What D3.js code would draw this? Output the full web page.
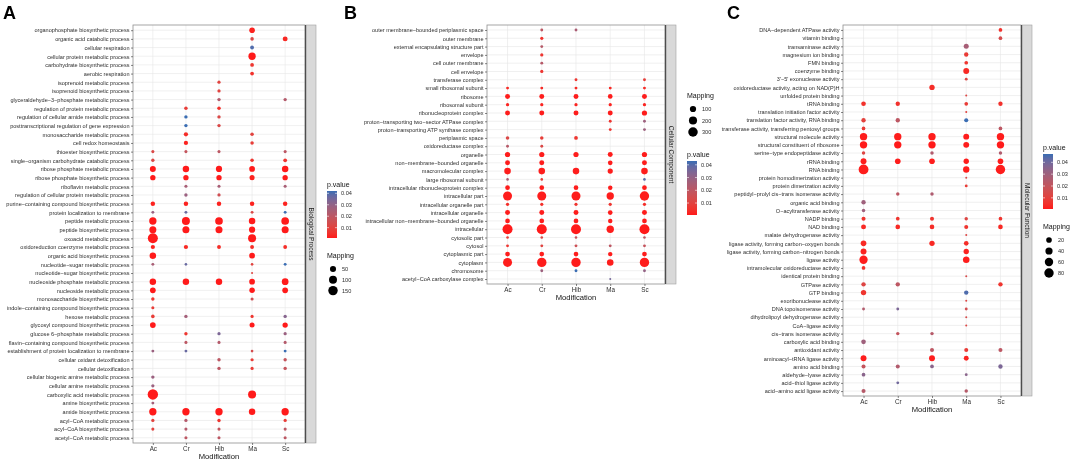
<!DOCTYPE html>
<html>
<head>
<meta charset="utf-8">
<script src="https://cdn.jsdelivr.net/npm/d3@7"></script>
<style>
  body { margin: 0; background: #fff; }
  svg { will-change: transform; }
  svg, svg text { font-family: "Liberation Sans", Arial, sans-serif; }
</style>
</head>
<body>
<svg id="chart" width="1072" height="460"></svg>
<script>
const modifications = ["Ac", "Cr", "Hib", "Ma", "Sc"];
const _ = null;

// A: Biological Process  (rows top -> bottom, columns Ac Cr Hib Ma Sc)
const bpTerms = [
  "organophosphate biosynthetic process", "organic acid catabolic process", "cellular respiration",
  "cellular protein metabolic process", "carbohydrate biosynthetic process", "aerobic respiration",
  "isoprenoid metabolic process", "isoprenoid biosynthetic process", "glyceraldehyde\u22123\u2212phosphate metabolic process",
  "regulation of protein metabolic process", "regulation of cellular amide metabolic process",
  "posttranscriptional regulation of gene expression", "monosaccharide metabolic process", "cell redox homeostasis",
  "thioester biosynthetic process", "single\u2212organism carbohydrate catabolic process", "ribose phosphate metabolic process",
  "ribose phosphate biosynthetic process", "riboflavin metabolic process", "regulation of cellular protein metabolic process",
  "purine\u2212containing compound biosynthetic process", "protein localization to membrane", "peptide metabolic process",
  "peptide biosynthetic process", "oxoacid metabolic process", "oxidoreduction coenzyme metabolic process",
  "organic acid biosynthetic process", "nucleotide\u2212sugar metabolic process", "nucleotide\u2212sugar biosynthetic process",
  "nucleoside phosphate metabolic process", "nucleoside metabolic process", "monosaccharide biosynthetic process",
  "indole\u2212containing compound biosynthetic process", "hexose metabolic process", "glycosyl compound biosynthetic process",
  "glucose 6\u2212phosphate metabolic process", "flavin\u2212containing compound biosynthetic process",
  "establishment of protein localization to membrane", "cellular oxidant detoxification", "cellular detoxification",
  "cellular biogenic amine metabolic process", "cellular amine metabolic process", "carboxylic acid metabolic process",
  "amine biosynthetic process", "amide biosynthetic process", "acyl\u2212CoA metabolic process",
  "acyl\u2212CoA biosynthetic process", "acetyl\u2212CoA metabolic process"
];
const bpMapping = [
  [_,_,_,40,_], [_,_,_,12,28], [_,_,_,15,_], [_,_,_,80,_], [_,_,_,14,_], [_,_,_,14,_],
  [_,_,10,_,_], [_,_,10,_,_], [_,_,11,_,11], [_,12,12,_,_], [_,11,11,_,_], [_,11,11,_,_],
  [_,19,_,12,_], [_,19,_,12,_], [9,9,9,_,9], [11,_,_,12,14], [47,58,52,42,58], [35,35,35,30,35],
  [_,9,9,_,9], [_,11,10,_,_], [22,22,22,22,22], [8,8,_,8,8], [80,99,90,58,90], [72,72,72,52,72],
  [173,_,_,100,_], [19,19,15,15,15], [58,_,_,42,_], [8,7,_,7,8], [_,_,_,6,_], [58,58,58,42,64],
  [42,_,_,38,42], [11,_,_,9,_], [9,_,_,_,_], [13,11,_,10,11], [42,_,_,30,35], [_,11,10,_,10],
  [_,9,9,_,9], [8,8,_,7,8], [_,_,11,10,11], [_,_,11,10,11], [11,_,_,_,_], [10,_,_,_,_],
  [190,_,_,100,_], [8,_,_,_,_], [80,80,80,58,80], [10,10,11,_,10], [9,9,9,_,9], [_,9,9,_,9]
];
const bpPvalue = [
  [_,_,_,.002,_], [_,_,_,.012,.003], [_,_,_,.040,_], [_,_,_,.001,_], [_,_,_,.006,_], [_,_,_,.005,_],
  [_,_,.010,_,_], [_,_,.010,_,_], [_,_,.022,_,.022], [_,.008,.005,_,_], [_,.042,.012,_,_], [_,.042,.012,_,_],
  [_,.004,_,.010,_], [_,.002,_,.008,_], [.012,.018,.020,_,.020], [.012,_,_,.006,.006],
  [.001,.001,.001,.001,.001], [.001,.001,.001,.002,.001],
  [_,.025,.025,_,.025], [_,.028,.015,_,_], [.002,.002,.002,.002,.002], [.028,.037,_,.012,.042],
  [.001,.001,.001,.001,.001], [.001,.001,.001,.001,.001],
  [.001,_,_,.001,_], [.002,.003,.004,.004,.004], [.001,_,_,.001,_], [.025,.037,_,.010,.042], [_,_,_,.010,_],
  [.001,.001,.001,.001,.001],
  [.001,_,_,.001,.001], [.006,_,_,.015,_], [.008,_,_,_,_], [.008,.026,_,.006,.032], [.001,_,_,.001,.001],
  [_,.006,.034,_,.028],
  [_,.020,.022,_,.022], [.028,.037,_,.014,.042], [_,_,.020,.008,.018], [_,_,.020,.008,.018], [.028,_,_,_,_],
  [.028,_,_,_,_],
  [.001,_,_,.001,_], [.026,_,_,_,_], [.001,.001,.001,.001,.001], [.010,.022,.006,_,.008], [.010,.022,.018,_,.020],
  [_,.020,.020,_,.020]
];
const bpSizeBreaks = [50, 100, 150];

// B: Cellular Component
const ccTerms = [
  "outer membrane\u2212bounded periplasmic space", "outer membrane", "external encapsulating structure part",
  "envelope", "cell outer membrane", "cell envelope", "transferase complex", "small ribosomal subunit",
  "ribosome", "ribosomal subunit", "ribonucleoprotein complex", "proton\u2212transporting two\u2212sector ATPase complex",
  "proton\u2212transporting ATP synthase complex", "periplasmic space", "oxidoreductase complex", "organelle",
  "non\u2212membrane\u2212bounded organelle", "macromolecular complex", "large ribosomal subunit",
  "intracellular ribonucleoprotein complex", "intracellular part", "intracellular organelle part",
  "intracellular organelle", "intracellular non\u2212membrane\u2212bounded organelle", "intracellular",
  "cytosolic part", "cytosol", "cytoplasmic part", "cytoplasm", "chromosome", "acetyl\u2212CoA carboxylase complex"
];
const ccMapping = [
  [_,10,10,_,_], [_,14,_,_,_], [_,10,_,_,_], [_,14,_,_,_], [_,10,_,_,_], [_,14,_,_,_], [_,_,10,_,10],
  [10,10,10,10,10], [52,52,52,44,52], [14,14,14,14,14], [52,52,52,52,60], [_,_,_,10,10], [_,_,_,10,10],
  [18,18,22,_,_], [10,10,_,_,_], [60,60,60,52,60], [52,52,_,44,52], [115,115,115,60,115], [8,8,_,_,8],
  [44,44,44,38,44], [262,262,262,155,290], [14,14,14,14,14], [52,52,52,44,52], [44,44,44,38,44],
  [340,340,340,155,340], [8,8,8,_,8], [10,10,10,10,10], [44,44,44,38,44], [262,290,290,115,290],
  [_,10,10,_,10], [_,_,_,6,_]
];
const ccPvalue = [
  [_,.020,.025,_,_], [_,.005,_,_,_], [_,.022,_,_,_], [_,.006,_,_,_], [_,.022,_,_,_], [_,.006,_,_,_],
  [_,_,.006,_,.008], [.003,.003,.003,.003,.003], [.001,.001,.001,.001,.001], [.002,.002,.002,.002,.002],
  [.001,.001,.001,.001,.001], [_,_,_,.006,.028], [_,_,_,.006,.028], [.012,.008,.006,_,_], [.022,.012,_,_,_],
  [.001,.001,.001,.001,.001], [.001,.001,_,.001,.001], [.001,.001,.001,.001,.001], [.025,.008,_,_,.040],
  [.001,.001,.001,.001,.001], [.001,.001,.001,.001,.001], [.004,.004,.005,.006,.004], [.001,.001,.001,.001,.001],
  [.001,.001,.001,.001,.001], [.0006,.0006,.0006,.001,.0006], [.008,.012,.018,_,.020], [.006,.010,.016,.020,.018],
  [.001,.001,.001,.001,.001], [.001,.001,.001,.001,.001], [_,.028,.043,_,.030], [_,_,_,.036,_]
];
const ccSizeBreaks = [100, 200, 300];

// C: Molecular Function
const mfTerms = [
  "DNA\u2212dependent ATPase activity", "vitamin binding", "transaminase activity", "magnesium ion binding",
  "FMN binding", "coenzyme binding", "3'\u22125' exonuclease activity", "oxidoreductase activity, acting on NAD(P)H",
  "unfolded protein binding", "tRNA binding", "translation initiation factor activity",
  "translation factor activity, RNA binding", "transferase activity, transferring pentosyl groups",
  "structural molecule activity", "structural constituent of ribosome", "serine\u2212type endopeptidase activity",
  "rRNA binding", "RNA binding", "protein homodimerization activity", "protein dimerization activity",
  "peptidyl\u2212prolyl cis\u2212trans isomerase activity", "organic acid binding", "O\u2212acyltransferase activity",
  "NADP binding", "NAD binding", "malate dehydrogenase activity", "ligase activity, forming carbon\u2212oxygen bonds",
  "ligase activity, forming carbon\u2212nitrogen bonds", "ligase activity", "intramolecular oxidoreductase activity",
  "identical protein binding", "GTPase activity", "GTP binding", "exoribonuclease activity",
  "DNA topoisomerase activity", "dihydrolipoyl dehydrogenase activity", "CoA\u2212ligase activity",
  "cis\u2212trans isomerase activity", "carboxylic acid binding", "antioxidant activity",
  "aminoacyl\u2212tRNA ligase activity", "amino acid binding", "aldehyde\u2212lyase activity",
  "acid\u2212thiol ligase activity", "acid\u2212amino acid ligase activity"
];
const mfMapping = [
  [_,_,_,_,5], [_,_,_,_,5], [_,_,_,14,_], [_,_,_,9,_], [_,_,_,5,_], [_,_,_,23,_], [_,_,_,2,_],
  [_,_,17,_,_], [_,_,_,1,_], [11,9,_,5,9], [_,_,_,1,_], [9,9,_,7,_], [5,_,_,_,5], [42,42,42,23,42],
  [42,42,42,23,42], [4,_,4,_,4], [23,20,20,17,20], [88,_,_,28,80], [_,_,_,1,_], [_,_,_,2,_],
  [_,4,4,_,_], [9,_,_,_,_], [4,_,_,_,_], [7,5,7,4,5], [13,11,11,7,11], [_,_,_,1,_], [20,_,17,11,_],
  [23,_,_,17,_], [58,_,_,31,_], [5,_,_,_,_], [_,_,_,1,_], [9,9,_,_,9], [17,_,_,9,_], [_,_,_,1,_],
  [2,2,_,2,_], [_,_,_,1,_], [_,_,_,1,_], [_,4,4,_,_], [11,_,_,_,_], [_,_,7,7,7], [23,_,23,13,_],
  [7,7,5,_,9], [5,_,_,2,_], [_,2,_,_,_], [7,_,_,4,_]
];
const mfPvalue = [
  [_,_,_,_,.005], [_,_,_,_,.015], [_,_,_,.028,_], [_,_,_,.008,_], [_,_,_,.006,_], [_,_,_,.003,_],
  [_,_,_,.012,_], [_,_,.004,_,_], [_,_,_,.012,_], [.005,.005,_,.008,.005], [_,_,_,.010,_],
  [.010,.022,_,.047,_], [.008,_,_,_,.022], [.001,.001,.001,.001,.001], [.0006,.0006,.0006,.001,.0006],
  [.012,_,.025,_,.025], [.001,.001,.001,.001,.001], [.001,_,_,.001,.001], [_,_,_,.014,_], [_,_,_,.008,_],
  [_,.022,.026,_,_], [.030,_,_,_,_], [.030,_,_,_,_], [.006,.006,.006,.012,.006], [.003,.003,.004,.006,.003],
  [_,_,_,.012,_], [.003,_,.003,.004,_], [.002,_,_,.002,_], [.001,_,_,.001,_], [.005,_,_,_,_],
  [_,_,_,.014,_], [.012,.022,_,_,.006], [.006,_,_,.045,_], [_,_,_,.012,_], [.025,.038,_,.016,_],
  [_,_,_,.014,_], [_,_,_,.012,_], [_,.020,.024,_,_], [.030,_,_,_,_], [_,_,.022,.008,.022],
  [.001,_,.001,.002,_], [.020,.025,.035,_,.038], [.035,_,_,.035,_], [_,.040,_,_,_], [.024,_,_,.024,_]
];
const mfSizeBreaks = [20, 40, 60, 80];

const pBreaks = [0.01, 0.02, 0.03, 0.04];

const svg = d3.select("#chart");
const defs = svg.append("defs");
const LOW = "#ff1a1a", HIGH = "#3a6db3";
const LABEL = "#2e2e2e";

function drawPanel(o) {
  const g = svg.append("g");
  const x = d3.scalePoint().domain(modifications).range([o.left, o.right]).padding(0.6);
  const y = d3.scalePoint().domain(o.terms).range([o.top, o.bottom]).padding(0.6);

  const pts = [];
  o.terms.forEach((t, i) => modifications.forEach((m, j) => {
    if (o.mapping[i][j] != null) pts.push({ term: t, mod: m, n: o.mapping[i][j], p: o.pvalue[i][j] });
  }));

  const color = d3.scaleLinear().domain(d3.extent(pts, d => d.p)).range([LOW, HIGH]).interpolate(d3.interpolateLab);
  const norm = d3.scaleLinear().domain(d3.extent(pts, d => d.n)).range([0, 1]);
  const rScale = d3.scaleLinear().domain([0, 1]).range(o.rRange);
  const rad = v => rScale(Math.sqrt(Math.max(0, norm(v))));

  // grid
  g.append("g").selectAll("line").data(o.terms).join("line")
    .attr("x1", o.left).attr("x2", o.right).attr("y1", d => y(d)).attr("y2", d => y(d))
    .attr("stroke", "#e6e6e6").attr("stroke-width", 0.6);
  g.append("g").selectAll("line").data(modifications).join("line")
    .attr("y1", o.top).attr("y2", o.bottom).attr("x1", d => x(d)).attr("x2", d => x(d))
    .attr("stroke", "#e6e6e6").attr("stroke-width", 0.6);

  g.append("rect").attr("x", o.left).attr("y", o.top)
    .attr("width", o.right - o.left).attr("height", o.bottom - o.top)
    .attr("fill", "none").attr("stroke", "#8f8f8f").attr("stroke-width", 0.8);

  // strip
  g.append("rect").attr("x", o.right + 1).attr("y", o.top).attr("width", 10).attr("height", o.bottom - o.top)
    .attr("fill", "#d9d9d9").attr("stroke", "#a0a0a0").attr("stroke-width", 0.6);
  g.append("line").attr("x1", o.right + 0.5).attr("x2", o.right + 0.5).attr("y1", o.top).attr("y2", o.bottom)
    .attr("stroke", "#4d4d4d").attr("stroke-width", 1.2);
  g.append("text")
    .attr("transform", `translate(${o.right + 6},${(o.top + o.bottom) / 2}) rotate(90)`)
    .attr("text-anchor", "middle").attr("dominant-baseline", "central")
    .attr("font-size", 6.5).attr("fill", "#1a1a1a").text(o.strip);

  // axes
  const ya = g.append("g").attr("transform", `translate(${o.left},0)`)
    .call(d3.axisLeft(y).tickSize(2).tickPadding(1.5));
  const xa = g.append("g").attr("transform", `translate(0,${o.bottom})`)
    .call(d3.axisBottom(x).tickSize(2).tickPadding(1.5));
  [ya, xa].forEach(a => {
    a.attr("font-family", null).attr("font-size", null);
    a.select(".domain").remove();
    a.selectAll(".tick line").attr("stroke", "#333").attr("stroke-width", 0.6);
    a.selectAll(".tick text").attr("font-size", 5.55).attr("fill", LABEL);
  });
  xa.selectAll(".tick text").attr("font-size", 6.3);
  g.append("text").attr("x", (o.left + o.right) / 2).attr("y", o.bottom + 16)
    .attr("text-anchor", "middle").attr("font-size", 7.6).attr("fill", "#111").text("Modification");

  // dots
  g.append("g").selectAll("circle").data(pts).join("circle")
    .attr("cx", d => x(d.mod)).attr("cy", d => y(d.term)).attr("r", d => rad(d.n))
    .attr("fill", d => color(d.p));

  // letter
  svg.append("text").attr("x", o.letterX).attr("y", 19).attr("font-size", 18).attr("font-weight", "bold")
    .attr("fill", "#000").text(o.letter);

  // colour legend
  const cl = o.colorLegend;
  const gid = "grad" + o.letter;
  const grad = defs.append("linearGradient").attr("id", gid).attr("x1", 0).attr("x2", 0).attr("y1", 1).attr("y2", 0);
  d3.range(0, 1.0001, 0.1).forEach(t => {
    const dom = color.domain();
    grad.append("stop").attr("offset", t).attr("stop-color", color(dom[0] + t * (dom[1] - dom[0])));
  });
  const lg = svg.append("g");
  lg.append("text").attr("x", cl.x).attr("y", cl.top - 4).attr("font-size", 7).attr("fill", "#111").text("p.value");
  lg.append("rect").attr("x", cl.x).attr("y", cl.top).attr("width", 10).attr("height", cl.bottom - cl.top)
    .attr("fill", `url(#${gid})`);
  const cy = d3.scaleLinear().domain(color.domain()).range([cl.bottom, cl.top]);
  pBreaks.forEach(b => {
    lg.append("line").attr("x1", cl.x).attr("x2", cl.x + 2).attr("y1", cy(b)).attr("y2", cy(b)).attr("stroke", "#fff").attr("stroke-width", 0.6);
    lg.append("line").attr("x1", cl.x + 8).attr("x2", cl.x + 10).attr("y1", cy(b)).attr("y2", cy(b)).attr("stroke", "#fff").attr("stroke-width", 0.6);
    lg.append("text").attr("x", cl.x + 14).attr("y", cy(b)).attr("dominant-baseline", "central")
      .attr("font-size", 5.6).attr("fill", LABEL).text(b.toFixed(2));
  });

  // size legend
  const sl = o.sizeLegend;
  lg.append("text").attr("x", sl.x).attr("y", sl.y).attr("font-size", 7).attr("fill", "#111").text("Mapping");
  o.sizeBreaks.forEach((b, i) => {
    const yy = sl.y + 11 + i * sl.dy;
    lg.append("circle").attr("cx", sl.x + 6).attr("cy", yy).attr("r", rad(b)).attr("fill", "#000");
    lg.append("text").attr("x", sl.x + 15).attr("y", yy).attr("dominant-baseline", "central")
      .attr("font-size", 5.6).attr("fill", LABEL).text(b);
  });
}

drawPanel({
  terms: bpTerms, mapping: bpMapping, pvalue: bpPvalue, strip: "Biological Process", letter: "A", letterX: 3,
  left: 133, right: 305, top: 25, bottom: 443, rRange: [1, 5.2], sizeBreaks: bpSizeBreaks,
  colorLegend: { x: 327, top: 191, bottom: 238 }, sizeLegend: { x: 327, y: 258, dy: 10.8 }
});
drawPanel({
  terms: ccTerms, mapping: ccMapping, pvalue: ccPvalue, strip: "Cellular Component", letter: "B", letterX: 344,
  left: 487, right: 665, top: 25, bottom: 284, rRange: [1, 5], sizeBreaks: ccSizeBreaks,
  colorLegend: { x: 687, top: 161, bottom: 215 }, sizeLegend: { x: 687, y: 98, dy: 11.5 }
});
drawPanel({
  terms: mfTerms, mapping: mfMapping, pvalue: mfPvalue, strip: "Molecular Function", letter: "C", letterX: 727,
  left: 843, right: 1021, top: 25, bottom: 396, rRange: [1, 4.9], sizeBreaks: mfSizeBreaks,
  colorLegend: { x: 1043, top: 154, bottom: 209 }, sizeLegend: { x: 1043, y: 229, dy: 11 }
});
</script>
</body>
</html>
